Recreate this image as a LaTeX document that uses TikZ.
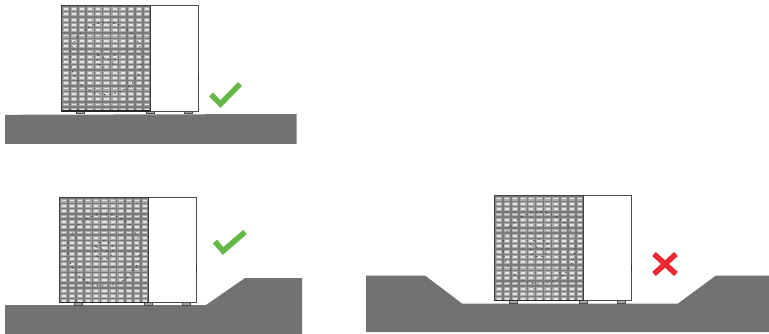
\documentclass[tikz,border=0pt]{standalone}
\definecolor{groundc}{RGB}{112,114,115}
\definecolor{okc}{RGB}{100,184,70}
\definecolor{noc}{RGB}{236,40,50}
\definecolor{meshd}{RGB}{122,122,124}
\definecolor{meshm}{RGB}{168,169,170}
\definecolor{meshl}{RGB}{228,228,228}
\tikzset{
  x=1pt,y=-1pt,
  ground/.style={fill=groundc,draw=none},
  okmark/.style={draw=okc,line width=5.5pt,miter limit=10},
  nomark/.style={draw=noc,line width=5.5pt},
  casing/.style={draw=black!70,line width=0.7pt,fill=white},
  footc/.style={draw=black!70,line width=0.6pt,fill=black!35},
  fan/.style={draw=black!80,line width=0.8pt,dash pattern=on 1.2pt off 4pt},
  unit/.pic={
    \foreach \fx in {15,85,123}{\draw[footc] (\fx,105.5) rectangle ++(8,2.7);}
    \draw[casing] (0,0) rectangle (137,105.5);
    \fill[meshd] (0,0) rectangle (88.5,105.5);
    \begin{scope}
      \clip (1,1) rectangle (87.5,104.5);
      \foreach \r in {0,...,19}{
        \foreach \c in {0,...,10}{
          \fill[meshm] (\c*8.15+0.9,\r*5.3+1.7) rectangle ++(6.7,3.9);
          \fill[meshl] (\c*8.15+2.2,\r*5.3+2.7) rectangle ++(4.1,1.8);
        }
      }
    \end{scope}
    \draw[fan] (44.5,53) circle (36);
    \draw[fan] (44.5,53) circle (9);
    \draw[fan] (37,50) -- (52,56);
    \draw[black!75,line width=0.9pt] (0,0) rectangle (88.5,105.5);
    \draw[black!85,line width=1.4pt] (0,105.5) -- (88.5,105.5);
    \draw[black!80,line width=1pt] (137,70) -- (137,76);
  }
}
\begin{document}
\begin{tikzpicture}
\useasboundingbox (0,0) rectangle (769,334);
\fill[ground] (5,114.8) -- (296.5,114) -- (296.5,144) -- (5,144) -- cycle;
\pic at (61.5,5.5) {unit};
\draw[okmark] (211,94.5) -- (220.5,104) -- (240,84);
\fill[ground] (5,305) -- (206,305) -- (245,278) -- (302,278) -- (302,334) -- (5,334) -- cycle;
\pic at (59.5,197) {unit};
\draw[okmark] (215,241.5) -- (223,251) -- (245,232);
\fill[ground] (366,275.5) -- (425,275.5) -- (462,303.5) -- (678,303.5) -- (716,275.5) -- (769,275.5) -- (769,332) -- (366,332) -- cycle;
\pic at (494.5,195) {unit};
\draw[nomark] (654,254) -- (676,274);
\draw[nomark] (676,254) -- (654,274);
\end{tikzpicture}
\end{document}
